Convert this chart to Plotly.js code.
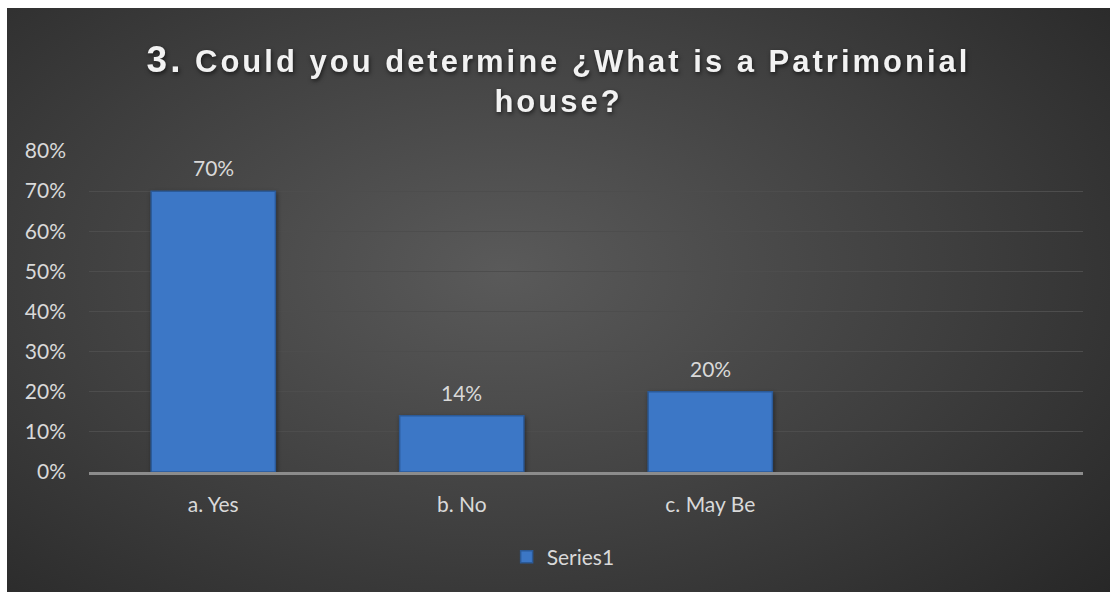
<!DOCTYPE html>
<html>
<head>
<meta charset="utf-8">
<script src="https://cdn.plot.ly/plotly-3.0.1.min.js"></script>
<style>
html, body { margin: 0; padding: 0; background: #ffffff; width: 1110px; height: 592px; overflow: hidden; }
#chart {
  position: absolute; left: 7px; top: 8px; width: 1103px; height: 584px;
  background: radial-gradient(ellipse 75% 85% at 45% 45%, #5a5a5a 0%, #3e3e3e 55%, #262626 100%);
}
#chart .gtitle { letter-spacing: 3px; filter: drop-shadow(1px 2px 2px rgba(0,0,0,0.6)); }
#chart .trace.bars .point path { filter: drop-shadow(1px 2px 2px rgba(0,0,0,0.45)); }
</style>
</head>
<body>
<div id="chart"></div>
<script>
const categories = ["a. Yes", "b. No", "c. May Be"];
const values = [0.70, 0.14, 0.20];
const valueLabels = ["70%", "14%", "20%"];
const yTickVals = [0, 0.1, 0.2, 0.3, 0.4, 0.5, 0.6, 0.7, 0.8];
const yTickText = ["0%", "10%", "20%", "30%", "40%", "50%", "60%", "70%", "80%"];
const seriesName = "Series1";

const labelFont = { family: "Lato, 'Open Sans', sans-serif", size: 21, color: "#d9d9d9" };

const trace = {
  type: "bar",
  x: categories,
  y: values,
  name: seriesName,
  width: 0.5,
  marker: { color: "#3c77c6", line: { color: "#2b5a98", width: 1.5 } },
  hoverinfo: "none"
};

const annotations = categories.map((c, i) => ({
  x: c, y: values[i], xref: "x", yref: "y",
  text: valueLabels[i], showarrow: false,
  yanchor: "bottom", yshift: 9,
  font: labelFont
}));

const layout = {
  width: 1103, height: 584,
  paper_bgcolor: "rgba(0,0,0,0)",
  plot_bgcolor: "rgba(0,0,0,0)",
  margin: { l: 82, r: 27, t: 143, b: 120, pad: 0 },
  title: {
    text: "<span style='font-size:37px'>3.</span> Could you determine ¿What is a Patrimonial<br>house?",
    font: { family: "'Liberation Sans', Arial, sans-serif", size: 31, color: "#f2f2f2", weight: "bold" },
    x: 0.5, xanchor: "center", xref: "container",
    y: 1 - 64 / 584, yanchor: "top", yref: "container",
    pad: { t: 0 }
  },
  xaxis: {
    type: "category",
    range: [-0.5, 3.5],
    showgrid: false,
    showline: true, linecolor: "#8c8c8c", linewidth: 3,
    ticks: "", tickfont: labelFont,
    ticklabelstandoff: 12,
    zeroline: false, fixedrange: true
  },
  yaxis: {
    range: [0, 0.8],
    tickvals: yTickVals, ticktext: yTickText,
    showgrid: true, gridcolor: "#4d4d4d", gridwidth: 1,
    zeroline: false, showline: false,
    ticks: "", tickfont: labelFont,
    ticklabelstandoff: 22,
    fixedrange: true
  },
  showlegend: true,
  legend: {
    orientation: "h", x: 0.477, xanchor: "center", xref: "paper",
    y: -0.265, yanchor: "middle",
    font: labelFont, bgcolor: "rgba(0,0,0,0)",
    itemwidth: 30
  },
  annotations: annotations,
  bargap: 0.5
};

Plotly.newPlot("chart", [trace], layout, { displayModeBar: false, staticPlot: true });
</script>
</body>
</html>
